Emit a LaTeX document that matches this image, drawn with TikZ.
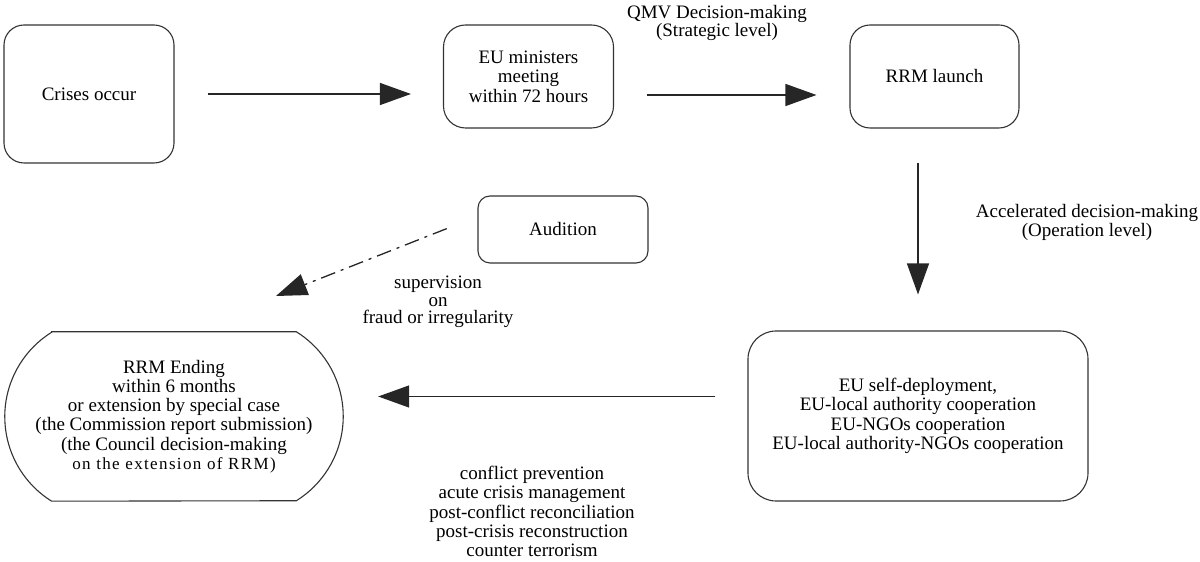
\documentclass[tikz,border=0pt]{standalone}
\usepackage{fontspec}
\setmainfont{Liberation Serif}
\usetikzlibrary{arrows.meta}
\begin{document}
\begin{tikzpicture}[x=1pt,y=1pt,
  box/.style={draw=black!80, line width=1.1pt, align=center, inner sep=0pt,
    font=\fontsize{19}{19.5}\selectfont},
  plainbox/.style={align=center, inner sep=0pt, font=\fontsize{19}{19.2}\selectfont},
  lbl/.style={align=center, inner sep=0pt, font=\fontsize{19}{19}\selectfont},
  arr/.style={draw=black!85, line width=1.3pt, -{Triangle[length=31pt,width=22pt]}},
  dashdot/.style={dash pattern=on 15pt off 6pt on 3pt off 6pt},
  outline/.style={draw=black!80, line width=1.1pt},
]
\useasboundingbox (0,0) rectangle (1200,562);

% boxes
\node[box, rounded corners=20pt, minimum width=170pt, minimum height=138pt] (crises) at (89,468) {Crises occur};
\node[box, rounded corners=22pt, minimum width=170pt, minimum height=103pt] (ministers) at (528.5,485.5) {EU ministers\\meeting\\within 72 hours};
\node[box, rounded corners=20pt, minimum width=169pt, minimum height=103pt] (launch) at (934.5,485.5) {RRM launch};
\node[box, rounded corners=12pt, minimum width=170pt, minimum height=67pt] (audition) at (563,332.5) {Audition};
\node[box, rounded corners=28pt, minimum width=340pt, minimum height=170pt] (coop) at (918,146)
  {EU self-deployment,\\EU-local authority cooperation\\EU-NGOs cooperation\\EU-local authority-NGOs cooperation};
\node[plainbox, minimum width=338pt, minimum height=169pt] (ending) at (174,145.5)
  {RRM Ending\\within 6 months\\or extension by special case\\(the Commission report submission)\\(the Council decision-making\\{\fontsize{17}{19.2}\selectfont\addfontfeatures{LetterSpace=8}on the extension of RRM)}};
\draw[outline] ([xshift=46.8pt]ending.north west) -- ([xshift=-46.8pt]ending.north east)
  arc[start angle=58, end angle=-58, radius=99.6pt]
  -- ([xshift=46.8pt]ending.south west)
  arc[start angle=238, end angle=122, radius=99.6pt] -- cycle;

% labels
\node[lbl, font=\fontsize{19}{18}\selectfont] (qmv) at (717,539) {QMV Decision-making\\(Strategic level)};
\node[lbl] (accel) at (1087,339.5) {Accelerated decision-making\\(Operation level)};
\node[lbl, font=\fontsize{19}{17.5}\selectfont] (superv) at (438,260) {supervision\\on\\fraud or irregularity};
\node[lbl, font=\fontsize{19}{19.3}\selectfont] (domains) at (532,50.5) {conflict prevention\\acute crisis management\\post-conflict reconciliation\\post-crisis reconstruction\\counter terrorism};

% connectors
\draw[arr, shorten <=33pt, shorten >=32pt] (crises.east) -- (crises.east -| ministers.west);
\draw[arr, shorten <=33pt, shorten >=33pt] ([yshift=-18.5pt]ministers.east) -- ([yshift=-18.5pt]launch.west);
\draw[arr, shorten <=34pt, shorten >=36pt] (launch.south -| coop.north) -- (coop.north);
\coordinate (a4s) at ([yshift=19.5pt]coop.west);
\draw[arr, shorten <=32pt, shorten >=35pt] (a4s) -- (a4s -| ending.east);
\coordinate (supend) at (276,266);
\draw[arr, dashdot, shorten <=33pt] ([yshift=13pt]audition.west) -- (supend);
\end{tikzpicture}
\end{document}
